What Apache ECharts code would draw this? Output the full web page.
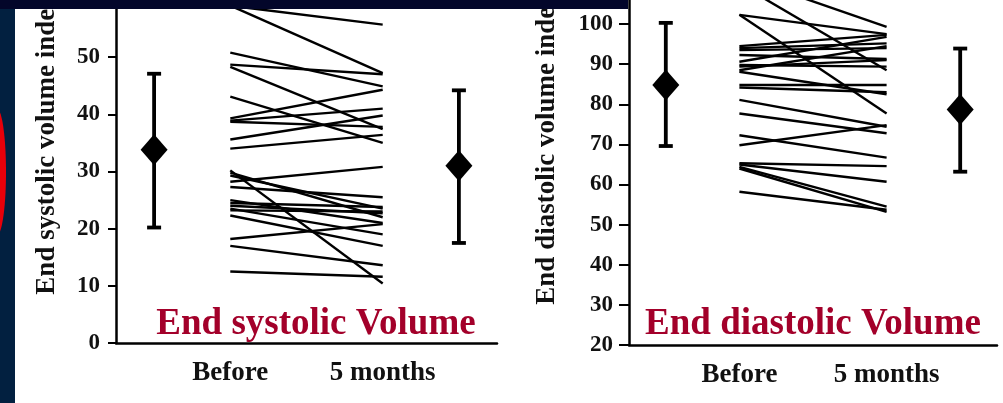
<!DOCTYPE html>
<html><head><meta charset="utf-8">
<script src="https://cdn.jsdelivr.net/npm/echarts@6/dist/echarts.min.js"></script>
<style>html,body{margin:0;padding:0;background:#fff}#c{width:1003px;height:403px}</style>
</head><body><div id="c"></div>
<script>
// ---- data ----
const categories = ['Before', '5 months'];
const esvTitle = 'End systolic Volume';
const edvTitle = 'End diastolic Volume';
const esvAxisName = 'End systolic volume index';
const edvAxisName = 'End diastolic volume index';

const esvBefore = [59, 59, 50.8, 48.7, 48.3, 43.1, 39.3, 38.9, 38.7, 35.6, 34.0, 30.2, 29.8, 29.3, 28.2, 27.3, 25.0, 24.5, 24.0, 23.5, 23.2, 22.3, 18.2, 17.0, 12.5];
const esvAfter  = [55.7, 47.2, 44.9, 47.0, 37.4, 35.0, 44.3, 41.0, 37.8, 39.8, 36.4, 10.4, 22.0, 23.5, 30.8, 25.5, 21.0, 23.8, 22.7, 19.0, 23.0, 17.0, 20.8, 13.6, 11.6];
const esvMean = [33.8, 31.0];
const esvLow  = [20.2, 17.5];
const esvHigh = [47.1, 44.2];

const edvBefore = [112, 110, 102.3, 102.3, 94.5, 94.0, 93.5, 92.3, 90.6, 89.8, 89.4, 88.5, 88.1, 84.8, 84.2, 81.1, 77.7, 72.3, 69.8, 65.3, 65.0, 64.4, 64.0, 58.2];
const edvAfter  = [99.3, 88.5, 97.5, 77.7, 97.3, 95.2, 94.0, 91.3, 96.8, 89.4, 91.0, 94.5, 82.5, 84.8, 83.0, 74.4, 72.8, 66.7, 74.8, 64.6, 60.7, 54.5, 53.2, 53.7];
const edvMean = [84.8, 78.7];
const edvLow  = [69.6, 63.2];
const edvHigh = [100.3, 93.9];

// ---- layout ----
const X_MEAN_B = 1, X_B = 3, X_A = 7, X_MEAN_A = 9;
const SERIF = 'Liberation Serif';

const chart = echarts.init(document.getElementById('c'), null, {renderer: 'canvas'});

function errRender(params, api) {
  const x = api.value(0), lo = api.value(1), hi = api.value(2);
  const pLo = api.coord([x, lo]), pHi = api.coord([x, hi]);
  const hw = 7;
  const style = {stroke: '#000', lineWidth: 3.8};
  return {type: 'group', children: [
    {type: 'line', shape: {x1: pLo[0], y1: pLo[1], x2: pHi[0], y2: pHi[1]}, style},
    {type: 'line', shape: {x1: pLo[0] - hw, y1: pLo[1], x2: pLo[0] + hw, y2: pLo[1]}, style},
    {type: 'line', shape: {x1: pHi[0] - hw, y1: pHi[1], x2: pHi[0] + hw, y2: pHi[1]}, style}
  ]};
}

function xAxis(gi) {
  return {
    type: 'value', gridIndex: gi, min: 0, max: 10, interval: 1,
    axisLine: {lineStyle: {color: '#000', width: 2.5}},
    axisTick: {show: false}, splitLine: {show: false},
    axisLabel: {
      margin: 17, fontFamily: SERIF, fontWeight: 'bold', fontSize: 27, color: '#111',
      showMinLabel: true, showMaxLabel: true,
      formatter: v => v === X_B ? categories[0] : (v === X_A ? categories[1] : '')
    }
  };
}
function yAxis(gi, min, max, tickLen) {
  return {
    type: 'value', gridIndex: gi, min, max, interval: 10,
    axisLine: {show: true, lineStyle: {color: '#000', width: 2.5}},
    axisTick: {show: true, length: tickLen, lineStyle: {color: '#000', width: 2}},
    splitLine: {show: false},
    axisLabel: {
      margin: 16, fontFamily: SERIF, fontWeight: 'bold', fontSize: 23, color: '#111',
      showMaxLabel: false
    }
  };
}

const series = [];
function addPanel(gi, before, after, mean, low, high) {
  before.forEach((b, i) => {
    series.push({
      type: 'line', xAxisIndex: gi, yAxisIndex: gi, silent: true, clip: true,
      symbol: 'none', lineStyle: {color: '#000', width: 2.4},
      data: [[X_B, b], [X_A, after[i]]], z: 2
    });
  });
  series.push({
    type: 'custom', xAxisIndex: gi, yAxisIndex: gi, silent: true,
    renderItem: errRender, encode: {x: 0, y: [1, 2]},
    data: [[X_MEAN_B, low[0], high[0]], [X_MEAN_A, low[1], high[1]]], z: 3
  });
  series.push({
    type: 'scatter', xAxisIndex: gi, yAxisIndex: gi, silent: true,
    symbol: 'diamond', symbolSize: [27, 31], itemStyle: {color: '#000', opacity: 1},
    data: [[X_MEAN_B, mean[0]], [X_MEAN_A, mean[1]]], z: 4
  });
}
addPanel(0, esvBefore, esvAfter, esvMean, esvLow, esvHigh);
addPanel(1, edvBefore, edvAfter, edvMean, edvLow, edvHigh);

chart.setOption({
  animation: false,
  backgroundColor: '#fff',
  grid: [
    {left: 116, right: 506, top: 0, bottom: 60},
    {left: 629, right: 6, top: 0, bottom: 58}
  ],
  xAxis: [xAxis(0), xAxis(1)],
  yAxis: [yAxis(0, 0, 60, 8), yAxis(1, 20, 106, 10)],
  series,
  graphic: [
    {type: 'text', x: 47, y: 145, rotation: Math.PI / 2, z: 50,
     style: {text: esvAxisName, font: 'bold 27px "Liberation Serif"', fill: '#111', textAlign: 'center', textVerticalAlign: 'middle'}},
    {type: 'text', x: 547, y: 149, rotation: Math.PI / 2, z: 50,
     style: {text: edvAxisName, font: 'bold 27px "Liberation Serif"', fill: '#111', textAlign: 'center', textVerticalAlign: 'middle'}},
    {type: 'text', x: 316, y: 324, z: 60,
     style: {text: esvTitle, font: 'bold 37px "Liberation Serif"', fill: '#a3002a', textAlign: 'center', textVerticalAlign: 'middle'}},
    {type: 'text', x: 813, y: 324, z: 60,
     style: {text: edvTitle, font: 'bold 37px "Liberation Serif"', fill: '#a3002a', textAlign: 'center', textVerticalAlign: 'middle'}},
    {type: 'rect', z: 100, shape: {x: 0, y: 0, width: 15, height: 403}, style: {fill: '#022040'}},
    {type: 'ellipse', z: 101, shape: {cx: -3, cy: 172, rx: 9, ry: 63}, style: {fill: '#e8000a'}},
    {type: 'rect', z: 102, shape: {x: 0, y: 0, width: 628, height: 9}, style: {fill: '#03062a'}}
  ]
});
</script></body></html>
